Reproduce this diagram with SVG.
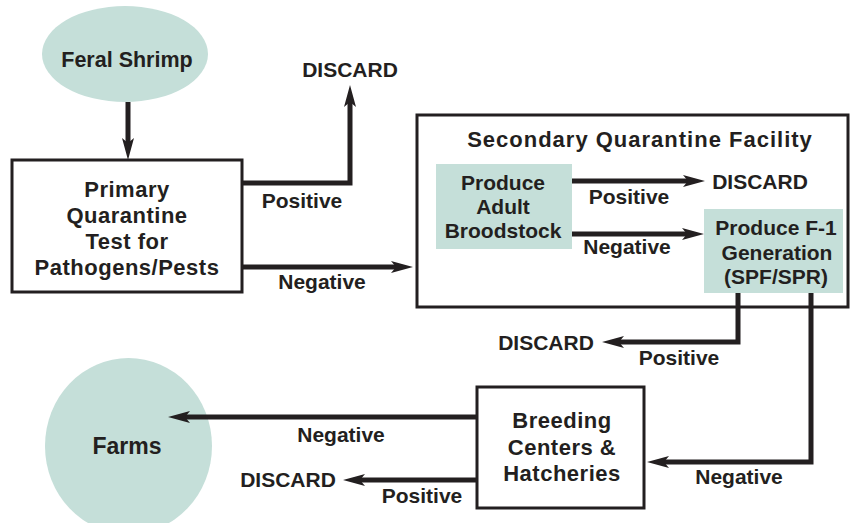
<svg xmlns="http://www.w3.org/2000/svg" width="852" height="523" viewBox="0 0 852 523">
<style>
text{font-family:"Liberation Sans",Arial,sans-serif;font-weight:bold;fill:#231f20;text-anchor:middle}
.lbl{font-size:21px}
.box{font-size:22px;letter-spacing:0.5px}
.frame{fill:#fff;stroke:#231f20;stroke-width:3}
.soft{fill:#c5dfd9}
.conn{fill:none;stroke:#231f20;stroke-width:5;marker-end:url(#ah)}
</style>
<defs>
<marker id="ah" markerUnits="userSpaceOnUse" markerWidth="22" markerHeight="12" refX="6" refY="6" orient="auto" viewBox="0 0 22 12">
<path d="M0,0 L22,6 L0,12 L5,6 z" fill="#231f20"/>
</marker>
</defs>
<rect width="852" height="523" fill="#fff"/>

<g id="feral">
<ellipse class="soft" cx="125" cy="54" rx="83" ry="48"/>
<text class="lbl" x="127" y="67" style="font-size:21.5px">Feral Shrimp</text>
</g>

<g id="primary">
<rect class="frame" x="12" y="160" width="230" height="132"/>
<text class="box" x="127" y="197">Primary</text>
<text class="box" x="127" y="223">Quarantine</text>
<text class="box" x="127" y="249">Test for</text>
<text class="box" x="127" y="275">Pathogens/Pests</text>
</g>

<g id="secondary">
<rect class="frame" x="417" y="115" width="431" height="192"/>
<text x="640" y="147" style="font-size:22px;letter-spacing:1px">Secondary Quarantine Facility</text>
</g>

<g id="broodstock">
<rect class="soft" x="436" y="164" width="136" height="85"/>
<text class="lbl" x="503" y="190">Produce</text>
<text class="lbl" x="503" y="214">Adult</text>
<text class="lbl" x="503" y="238">Broodstock</text>
</g>

<g id="f1">
<rect class="soft" x="704" y="209" width="139" height="84"/>
<text class="lbl" x="776" y="235">Produce F-1</text>
<text class="lbl" x="777" y="260">Generation</text>
<text class="lbl" x="776" y="284">(SPF/SPR)</text>
</g>

<g id="breeding">
<rect class="frame" x="477" y="387" width="167" height="121"/>
<text class="box" x="562" y="428">Breeding</text>
<text class="box" x="562" y="455">Centers &amp;</text>
<text class="box" x="562" y="481">Hatcheries</text>
</g>

<g id="farms">
<ellipse class="soft" cx="128.5" cy="446" rx="83.5" ry="88"/>
<text x="127" y="454" style="font-size:23px">Farms</text>
</g>

<g id="discards">
<text class="lbl" x="350" y="77">DISCARD</text>
<text class="lbl" x="760" y="189">DISCARD</text>
<text class="lbl" x="546" y="350">DISCARD</text>
<text class="lbl" x="288" y="487">DISCARD</text>
</g>

<g id="connectors">
<path class="conn" d="M128,102 V144"/>
<path class="conn" d="M242,183 H350 V101"/>
<path class="conn" d="M242,267 H397"/>
<path class="conn" d="M572,181 H689"/>
<path class="conn" d="M572,234 H688"/>
<path class="conn" d="M738,293 V342 H618"/>
<path class="conn" d="M811,293 V462 H663"/>
<path class="conn" d="M477,417 H184"/>
<path class="conn" d="M477,480 H359"/>
</g>

<g id="connector-labels">
<text class="lbl" x="302" y="208">Positive</text>
<text class="lbl" x="322" y="289">Negative</text>
<text class="lbl" x="629" y="204">Positive</text>
<text class="lbl" x="627" y="254">Negative</text>
<text class="lbl" x="679" y="365">Positive</text>
<text class="lbl" x="739" y="484">Negative</text>
<text class="lbl" x="341" y="442">Negative</text>
<text class="lbl" x="422" y="503">Positive</text>
</g>
</svg>
